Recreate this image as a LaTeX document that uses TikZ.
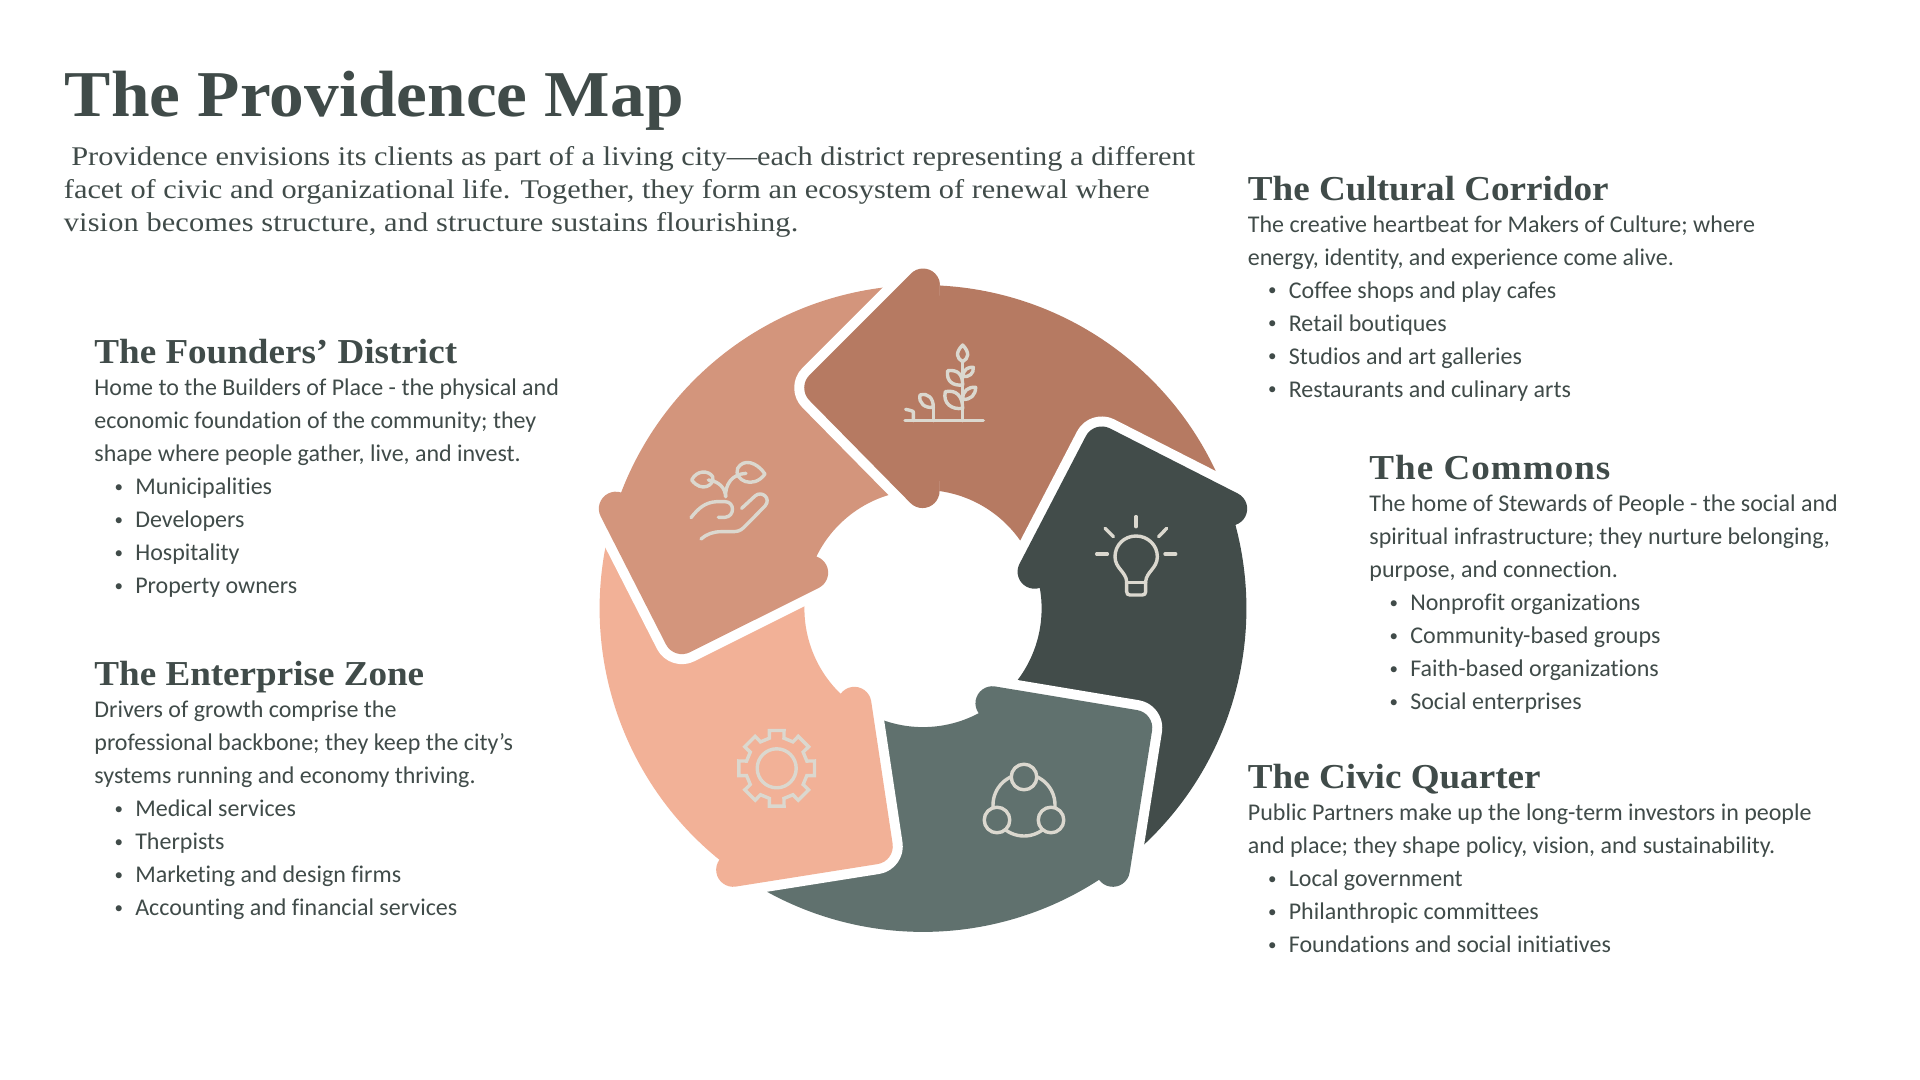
\documentclass[tikz,border=0pt]{standalone}
\usepackage{fontspec}
\setmainfont{Carlito}[Ligatures=NoCommon]
\newfontfamily\serifhead{Liberation Serif}[FakeStretch=1.06]
\newfontfamily\serifbody{Liberation Serif}[FakeStretch=1.125]
\definecolor{inkc}{RGB}{64,75,73}
\definecolor{cbrown}{RGB}{182,122,98}
\definecolor{clight}{RGB}{211,149,124}
\definecolor{csalmon}{RGB}{242,177,151}
\definecolor{cteal}{RGB}{96,113,110}
\definecolor{cdark}{RGB}{66,76,74}
\definecolor{iconc}{RGB}{219,216,207}
\newcommand{\ringshape}{(87:323.4) arc[start angle=87,end angle=22,radius=323.4] -- (22:118.6) arc[start angle=22,end angle=82,radius=118.6] arc[start angle=0,end angle=-135,radius=17] -- (-113.5,208) arc[start angle=-135,end angle=-225,radius=18] -- (-12,335) arc[start angle=135,end angle=0,radius=17] -- cycle}
\newcommand{\ringarrow}[2]{\begin{scope}[shift={(923,608.5)},y=.5pt,rotate=#1]
\draw[halo] \ringshape; \fill[#2] \ringshape;
\end{scope}}
\newcommand{\bull}[1]{\hspace*{12.25pt}\makebox[0pt][c]{\raisebox{1.2pt}{\fontsize{8.5}{8.5}\selectfont\textbullet}}\hspace*{8.2pt}#1}
\tikzset{
 halo/.style={draw=white,line width=10pt,line join=round},
 icon/.style={draw=iconc,line width=1.7pt,line cap=round,line join=round},
 headstyle/.style={anchor=base west,inner sep=0pt,text=inkc,font=\serifhead\bfseries\fontsize{17.5}{20}\selectfont},
 bodystyle/.style={anchor=north west,inner sep=0pt,align=left,text=inkc,font=\fontsize{12}{16.53}\selectfont},
}
\newcommand{\firstline}{\rule{0pt}{12pt}}
\begin{document}
\begin{tikzpicture}[x=.5pt,y=-.5pt]
\useasboundingbox (0,0) rectangle (1920,1080);
\fill[white] (0,0) rectangle (1920,1080);
% ring
\ringarrow{0}{cbrown}
\ringarrow{-72}{cdark}
\ringarrow{-144}{cteal}
\ringarrow{-216}{csalmon}
\ringarrow{-288}{clight}
\begin{scope}[shift={(923,608.5)},y=.5pt]
\clip (-220,85) rectangle (16,345);
\draw[halo] \ringshape; \fill[cbrown] \ringshape;
\end{scope}
% plant + hand icons
\begin{scope}[shift={(670,330)},x=.5pt/3,y=-.5pt/3]
\draw[icon] (705,272) -- (940,272);
\draw[icon] (878,272) -- (878,95);
\draw[icon] (878,45) .. controls (855,68) and (860,85) .. (878,95) .. controls (896,85) and (900,68) .. (878,45) -- cycle;
\draw[icon] (833,122) .. controls (865,118) and (878,135) .. (878,165) .. controls (850,168) and (828,155) .. (833,122) -- cycle;
\draw[icon] (878,140) .. controls (880,118) and (895,110) .. (910,112) .. controls (912,130) and (898,142) .. (878,140) -- cycle;
\draw[icon] (826,185) .. controls (860,178) and (878,200) .. (878,235) .. controls (845,240) and (818,220) .. (826,185) -- cycle;
\draw[icon] (878,208) .. controls (878,182) and (895,170) .. (917,172) .. controls (917,195) and (902,210) .. (878,208) -- cycle;
\draw[icon] (790,272) -- (790,232);
\draw[icon] (790,232) .. controls (790,205) and (775,188) .. (750,195) .. controls (745,220) and (765,235) .. (790,232) -- cycle;
\draw[icon] (707,238) .. controls (720,241) and (730,243) .. (730,246) -- (730,272);
% sprout in hand
\draw[icon] (65,450) .. controls (80,420) and (115,420) .. (128,440) .. controls (135,465) and (95,490) .. (65,450) -- cycle;
\draw[icon] (285,432) .. controls (260,395) and (220,385) .. (203,415) .. controls (190,450) and (250,480) .. (285,432) -- cycle;
\draw[icon] (167,500) .. controls (165,475) and (150,455) .. (115,450);
\draw[icon] (167,500) .. controls (165,465) and (185,432) .. (228,430);
\draw[icon] (63,563) .. controls (85,535) and (105,517) .. (140,515) -- (165,515) .. controls (195,515) and (195,560) .. (165,562) -- (145,562);
\draw[icon] (215,535) -- (255,498) .. controls (275,480) and (305,505) .. (285,528) -- (222,592) .. controls (210,604) and (200,605) .. (185,605) -- (155,605) .. controls (130,605) and (110,612) .. (93,627);
\end{scope}
% bulb
\begin{scope}[shift={(1080,500)},x=.5pt/3,y=-.5pt/3]
\draw[icon] (140,245) .. controls (138,215) and (105,205) .. (105,170) .. controls (105,135) and (133,108) .. (168,108) .. controls (203,108) and (232,135) .. (232,170) .. controls (232,205) and (199,215) .. (197,245) -- (197,275) .. controls (197,282) and (193,285) .. (187,285) -- (150,285) .. controls (144,285) and (140,282) .. (140,275) -- cycle;
\draw[icon] (140,247) -- (197,247);
\draw[icon] (168,50) -- (168,80);
\draw[icon] (75,85) -- (100,110);
\draw[icon] (260,85) -- (236,110);
\draw[icon] (50,162) -- (82,162);
\draw[icon] (255,162) -- (287,162);
\end{scope}
% gear
\begin{scope}[shift={(776.7,768.3)}]
\draw[icon] (0,0) circle[radius=19.5];
\draw[icon,line join=miter] (-103.5:31)
 \foreach \a in {-90,-45,...,225} { -- (\a-13.5:31) -- (\a-11:38.5) -- (\a+11:38.5) -- (\a+13.5:31) } -- cycle;
\end{scope}
% network
\draw[icon] (1024,805) circle[radius=31];
\foreach \cx/\cy in {1024/777,997/820,1051/820}{
 \draw[icon,fill=cteal] (\cx,\cy) circle[radius=12.8];
}
% title and intro
\node[anchor=base west,inner sep=0pt,text=inkc,font=\serifhead\bfseries\fontsize{32.7}{36}\selectfont] (title) at (64.5,117) {The Providence Map};
\node[anchor=north west,inner sep=0pt,align=left,text=inkc,font=\serifbody\fontsize{13.5}{16.6}\selectfont] (intro) at (63.5,165-24) {\rule{0pt}{12pt}\hspace*{3.7pt}Providence envisions its clients as part of a living city—each district representing a different\\facet of civic and organizational life. Together, they form an ecosystem of renewal where\\{\addfontfeature{LetterSpace=0.5}vision becomes structure, and structure sustains flourishing.}};
% founders
\node[headstyle] (foundersh) at (94,363.3) {The Founders’ District};
\node[bodystyle] (foundersb) at (94,395-24) {\firstline Home to the Builders of Place - the physical and\\economic foundation of the community; they\\shape where people gather, live, and invest.\\\bull{Municipalities}\\\bull{Developers}\\\bull{Hospitality}\\\bull{Property owners}};
% enterprise
\node[headstyle] (enterh) at (94,685) {The Enterprise Zone};
\node[bodystyle] (enterb) at (94,717-24) {\firstline Drivers of growth comprise the\\professional backbone; they keep the city’s\\systems running and economy thriving.\\\bull{Medical services}\\\bull{Therpists}\\\bull{Marketing and design firms}\\\bull{Accounting and financial services}};
% cultural
\node[headstyle] (cultureh) at (1247.5,201) {The Cultural Corridor};
\node[bodystyle] (cultureb) at (1247.5,231.7-24) {\firstline The creative heartbeat for Makers of Culture; where\\energy, identity, and experience come alive.\\\bull{Coffee shops and play cafes}\\\bull{Retail boutiques}\\\bull{Studios and art galleries}\\\bull{Restaurants and culinary arts}};
% commons
\node[headstyle] (commonsh) at (1369,479) {\addfontfeature{LetterSpace=2.9}The Commons};
\node[bodystyle] (commonsb) at (1369,511-24) {\firstline The home of Stewards of People - the social and\\spiritual infrastructure; they nurture belonging,\\purpose, and connection.\\\bull{Nonprofit organizations}\\\bull{Community-based groups}\\\bull{Faith-based organizations}\\\bull{Social enterprises}};
% civic
\node[headstyle] (civich) at (1247.5,788) {The Civic Quarter};
\node[bodystyle] (civicb) at (1247.5,820-24) {\firstline Public Partners make up the long-term investors in people\\and place; they shape policy, vision, and sustainability.\\\bull{Local government}\\\bull{Philanthropic committees}\\\bull{Foundations and social initiatives}};
\end{tikzpicture}
\end{document}
